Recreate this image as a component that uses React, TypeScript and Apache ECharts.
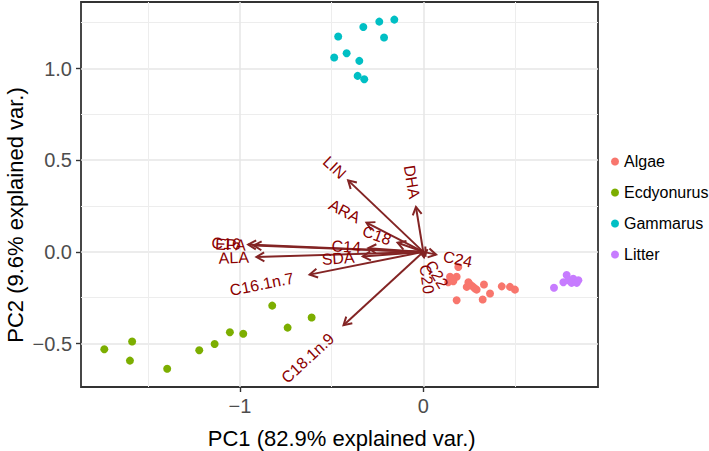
import React, { useEffect, useRef } from 'react';
import * as echarts from 'echarts';

const FONT = '"Liberation Sans", Arial, Helvetica, sans-serif';

const groups = ['Algae', 'Ecdyonurus', 'Gammarus', 'Litter'];
const groupColors = ['#F8766D', '#7CAE00', '#00BFC4', '#C77CFF'];

const algae: number[][] = [
  [0.191, -0.082], [0.146, -0.136], [0.182, -0.136], [0.136, -0.166],
  [0.164, -0.160], [0.155, -0.150], [0.246, -0.166], [0.237, -0.191],
  [0.269, -0.188], [0.255, -0.178], [0.291, -0.206], [0.280, -0.198],
  [0.331, -0.178], [0.364, -0.227], [0.324, -0.260], [0.182, -0.264],
  [0.428, -0.188], [0.473, -0.191], [0.500, -0.206],
];
const ecdyonurus: number[][] = [
  [-1.740, -0.531], [-1.588, -0.489], [-1.600, -0.593], [-1.397, -0.637],
  [-1.222, -0.537], [-1.138, -0.502], [-1.055, -0.438], [-0.982, -0.447],
  [-0.824, -0.293], [-0.740, -0.413], [-0.609, -0.358],
];
const gammarus: number[][] = [
  [-0.464, 1.175], [-0.327, 1.227], [-0.240, 1.256], [-0.158, 1.267],
  [-0.214, 1.169], [-0.486, 1.060], [-0.418, 1.083], [-0.349, 1.042],
  [-0.358, 0.960], [-0.322, 0.942],
];
const litter: number[][] = [
  [0.713, -0.196], [0.782, -0.126], [0.764, -0.166], [0.791, -0.155],
  [0.818, -0.147], [0.846, -0.155], [0.809, -0.169], [0.837, -0.169],
];
const groupData = [algae, ecdyonurus, gammarus, litter];

const varNames = ['LIN', 'DHA', 'ARA', 'C18', 'C14', 'SDA', 'C16', 'EPA', 'ALA', 'C16.1n.7', 'C18.1n.9', 'C24', 'C22', 'C20'];
const varPC1 = [-0.41, -0.04, -0.31, -0.14, -0.30, -0.33, -0.955, -0.925, -0.91, -0.62, -0.435, 0.07, 0.012, 0.004];
const varPC2 = [0.39, 0.245, 0.16, 0.05, 0.02, -0.025, 0.04, 0.035, -0.028, -0.124, -0.40, -0.015, -0.02, -0.03];

const xTicks = [-1, 0];
const xMinor = [-1.5, -0.5, 0.5];
const yTicks = [-0.5, 0, 0.5, 1];
const yMinor = [-0.25, 0.25, 0.75, 1.25];

const X_MIN = -1.867;
const X_MAX = 0.953;
const Y_MIN = -0.737;
const Y_MAX = 1.363;

const xTitle = 'PC1 (82.9% explained var.)';
const yTitle = 'PC2 (9.6% explained var.)';

const ARROW_COLOR = '#832424';
const LABEL_COLOR = '#8B0000';
const LABEL_SIZE = 16;

function fmtMinus(s: string) {
  return s.replace('-', '\u2212');
}

export default function App() {
  const ref = useRef<HTMLDivElement>(null);
  useEffect(() => {
    if (!ref.current) return;
    const chart = echarts.init(ref.current, undefined, { renderer: 'svg' });
    const canvas = document.createElement('canvas');
    const ctx = canvas.getContext('2d')!;
    ctx.font = `${LABEL_SIZE}px ${FONT}`;
    const widths = varNames.map((n) => ctx.measureText(n).width);

    const varData = varNames.map((_, i) => [varPC1[i], varPC2[i]]);
    const majorLine = { color: '#e6e6e6', width: 1.5 };
    const minorLine = { color: '#ededed', width: 1.0 };

    const option: any = {
      animation: false,
      backgroundColor: '#ffffff',
      grid: {
        left: 81, right: 111, top: 2, bottom: 64,
        show: true, borderColor: '#333333', borderWidth: 1.8, backgroundColor: 'transparent',
      },
      xAxis: [
        {
          type: 'value', min: X_MIN, max: X_MAX, position: 'bottom',
          axisLine: { show: false, onZero: false },
          axisTick: { show: true, length: 5, customValues: xTicks, lineStyle: { color: '#333', width: 1.4 } },
          axisLabel: {
            customValues: xTicks, color: '#4d4d4d', fontSize: 20, margin: 9, fontFamily: FONT,
            formatter: (v: number) => fmtMinus(String(v)),
          },
          splitLine: { show: true, lineStyle: majorLine },
        },
        {
          type: 'value', min: X_MIN, max: X_MAX, position: 'bottom',
          axisLine: { show: false, onZero: false },
          axisTick: { show: false, customValues: xMinor },
          axisLabel: { show: false, customValues: xMinor },
          splitLine: { show: true, lineStyle: minorLine },
        },
      ],
      yAxis: [
        {
          type: 'value', min: Y_MIN, max: Y_MAX, position: 'left',
          axisLine: { show: false, onZero: false },
          axisTick: { show: true, length: 5, customValues: yTicks, lineStyle: { color: '#333', width: 1.4 } },
          axisLabel: {
            customValues: yTicks, color: '#4d4d4d', fontSize: 20, margin: 9, fontFamily: FONT,
            formatter: (v: number) => fmtMinus(v.toFixed(1)),
          },
          splitLine: { show: true, lineStyle: majorLine },
        },
        {
          type: 'value', min: Y_MIN, max: Y_MAX, position: 'left',
          axisLine: { show: false, onZero: false },
          axisTick: { show: false, customValues: yMinor },
          axisLabel: { show: false, customValues: yMinor },
          splitLine: { show: true, lineStyle: minorLine },
        },
      ],
      legend: {
        orient: 'vertical', left: 611, top: 153, padding: 0,
        itemWidth: 8, itemHeight: 8, itemGap: 14, icon: 'circle',
        data: groups, selectedMode: false,
        textStyle: { fontSize: 16, color: '#000', lineHeight: 17, fontFamily: FONT },
      },
      graphic: [
        {
          type: 'text', x: 341.7, y: 438,
          style: { text: xTitle, fontSize: 22, fill: '#000', align: 'center', verticalAlign: 'middle', fontFamily: FONT },
        },
        {
          type: 'text', x: 15, y: 215, rotation: Math.PI / 2,
          style: { text: yTitle, fontSize: 22, fill: '#000', align: 'center', verticalAlign: 'middle', fontFamily: FONT },
        },
      ],
      series: [
        {
          type: 'custom', name: 'arrows', coordinateSystem: 'cartesian2d', xAxisIndex: 0, yAxisIndex: 0,
          z: 2, silent: true, encode: { x: 0, y: 1 }, data: varData,
          renderItem: (params: any, api: any) => {
            const x = api.value(0);
            const y = api.value(1);
            const o = api.coord([0, 0]);
            const e = api.coord([x, y]);
            const ang = Math.atan2(e[1] - o[1], e[0] - o[0]);
            const L = 9;
            const a = Math.PI / 6;
            const p1 = [e[0] - L * Math.cos(ang - a), e[1] - L * Math.sin(ang - a)];
            const p2 = [e[0] - L * Math.cos(ang + a), e[1] - L * Math.sin(ang + a)];
            return {
              type: 'group',
              children: [
                { type: 'line', shape: { x1: o[0], y1: o[1], x2: e[0], y2: e[1] }, style: { stroke: ARROW_COLOR, lineWidth: 2 } },
                { type: 'polyline', shape: { points: [p1, e, p2] }, style: { stroke: ARROW_COLOR, lineWidth: 2, fill: null } },
              ],
            };
          },
        },
        ...groups.map((g, i) => ({
          type: 'scatter', name: g, data: groupData[i], symbol: 'circle', symbolSize: 8,
          xAxisIndex: 0, yAxisIndex: 0, z: 3,
          itemStyle: { color: groupColors[i], opacity: 1 },
          emphasis: { disabled: true },
        })),
        {
          type: 'custom', name: 'varlabels', coordinateSystem: 'cartesian2d', xAxisIndex: 0, yAxisIndex: 0,
          z: 4, silent: true, encode: { x: 0, y: 1 }, data: varData,
          renderItem: (params: any, api: any) => {
            const i = params.dataIndex;
            const x = api.value(0);
            const y = api.value(1);
            const e = api.coord([x, y]);
            const w = widths[i];
            const neg = x < 0;
            return {
              type: 'group', x: e[0], y: e[1], rotation: Math.atan(y / x),
              children: [
                {
                  type: 'text', x: neg ? -0.25 * w : 0.25 * w, y: 0,
                  style: {
                    text: varNames[i], fill: LABEL_COLOR, fontSize: LABEL_SIZE, fontFamily: FONT,
                    align: neg ? 'right' : 'left', verticalAlign: 'middle',
                  },
                },
              ],
            };
          },
        },
      ],
    };
    chart.setOption(option);
    return () => chart.dispose();
  }, []);
  return <div ref={ref} style={{ position: 'fixed', left: 0, top: 0, width: 709, height: 451 }} />;
}
